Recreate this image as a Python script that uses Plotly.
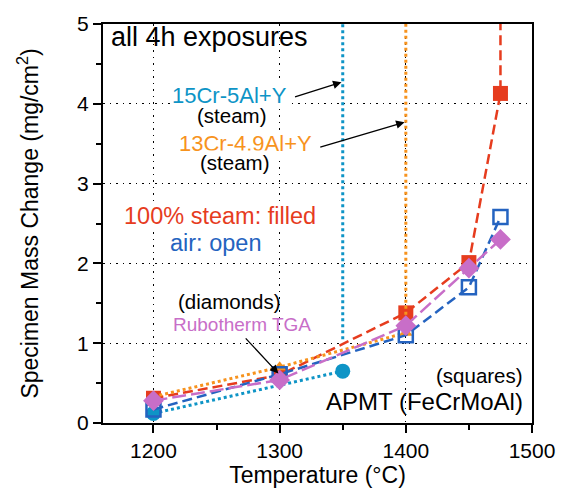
import plotly.graph_objects as go

# ---- data ----
temp_apmt = [1200, 1300, 1400, 1450, 1475]
steam_apmt_x = [1200, 1300, 1400, 1450, 1475, 1475]
steam_apmt_y = [0.31, 0.60, 1.38, 2.01, 4.13, 6.0]
air_apmt_y = [0.17, 0.61, 1.10, 1.70, 2.58]
tga_apmt_y = [0.28, 0.54, 1.22, 1.94, 2.30]

cr15_x = [1200, 1350]
cr15_y = [0.12, 0.65]
cr15_break_x = [1350, 1350]
cr15_break_y = [1.05, 6.0]

cr13_x = [1200, 1300, 1400]
cr13_y = [0.33, 0.70, 1.13]
cr13_break_x = [1400, 1400]
cr13_break_y = [1.13, 6.0]

RED = "#e63c1e"
BLUE = "#2463c0"
PURPLE = "#c86ec8"
CYAN = "#0e94c6"
ORANGE = "#f7931e"
FONT = "Liberation Sans, Arial, Helvetica, sans-serif"

fig = go.Figure()

# cyan 15Cr-5Al+Y steam
fig.add_trace(go.Scatter(x=cr15_x, y=cr15_y, mode="lines+markers",
                         line=dict(color=CYAN, width=3, dash="3px,3px"),
                         marker=dict(symbol="circle", size=15, color=CYAN)))
fig.add_trace(go.Scatter(x=cr15_break_x, y=cr15_break_y, mode="lines",
                         line=dict(color=CYAN, width=3, dash="3px,3px")))
# red APMT steam
fig.add_trace(go.Scatter(x=steam_apmt_x, y=steam_apmt_y, mode="lines+markers",
                         line=dict(color=RED, width=2.5, dash="10px,5px"),
                         marker=dict(symbol="square", size=15, color=RED)))
# orange 13Cr-4.9Al+Y steam
fig.add_trace(go.Scatter(x=cr13_x, y=cr13_y, mode="lines+markers",
                         line=dict(color=ORANGE, width=3, dash="3px,3px"),
                         marker=dict(symbol="triangle-up", size=12, color=ORANGE)))
fig.add_trace(go.Scatter(x=cr13_break_x, y=cr13_break_y, mode="lines",
                         line=dict(color=ORANGE, width=3, dash="3px,3px")))
# blue APMT air
fig.add_trace(go.Scatter(x=temp_apmt, y=air_apmt_y, mode="lines+markers",
                         line=dict(color=BLUE, width=2.5, dash="10px,5px"),
                         marker=dict(symbol="square-open", size=14, color=BLUE,
                                     line=dict(width=2.5, color=BLUE))))
# purple Rubotherm TGA
fig.add_trace(go.Scatter(x=temp_apmt, y=tga_apmt_y, mode="lines+markers",
                         line=dict(color=PURPLE, width=2.5, dash="14px,5px"),
                         marker=dict(symbol="diamond", size=16, color=PURPLE)))

# ---- text annotations ----
labels = [
    ("all 4h exposures", 1165.5, 4.84, "left", "black", 27, None),
    ("15Cr-5Al+Y", 1260, 4.11, "center", CYAN, 22, "white"),
    ("(steam)", 1262, 3.85, "center", "black", 20.5, "white"),
    ("13Cr-4.9Al+Y", 1273, 3.50, "center", ORANGE, 22, "white"),
    ("(steam)", 1264, 3.26, "center", "black", 20.5, "white"),
    ("100% steam: filled", 1253, 2.59, "center", RED, 23.5, "white"),
    ("air: open", 1249, 2.26, "center", BLUE, 23.5, None),
    ("(diamonds)", 1260, 1.52, "center", "black", 20.5, None),
    ("Rubotherm TGA", 1270, 1.23, "center", PURPLE, 19, None),
    ("(squares)", 1494, 0.59, "right", "black", 20.5, None),
    ("APMT (FeCrMoAl)", 1494, 0.27, "right", "black", 24, None),
]
for txt, x, y, anchor, col, size, bg in labels:
    fig.add_annotation(x=x, y=y, text=txt, showarrow=False, xanchor=anchor,
                       yanchor="middle", font=dict(family=FONT, size=size, color=col),
                       bgcolor=bg if bg else "rgba(0,0,0,0)", borderpad=0)

# ---- arrows ----
arrow_tips_x = [1349, 1399, 1299]
arrow_tips_y = [4.27, 3.77, 0.62]
arrow_tails_x = [1311, 1331, 1272]
arrow_tails_y = [4.08, 3.45, 1.08]
for tx, ty, ax, ay in zip(arrow_tips_x, arrow_tips_y, arrow_tails_x, arrow_tails_y):
    fig.add_annotation(x=tx, y=ty, ax=ax, ay=ay, axref="x", ayref="y",
                       xref="x", yref="y", text="", showarrow=True,
                       arrowhead=2, arrowsize=1.3, arrowwidth=1.3, arrowcolor="black")

axis_common = dict(showline=True, linecolor="black", linewidth=2, mirror=True,
                   ticks="outside", tickcolor="black", tickwidth=2, ticklen=8,
                   showgrid=True, gridcolor="black", gridwidth=1.3, griddash="1.5px,5px",
                   zeroline=False, tickfont=dict(family=FONT, size=21, color="black"))

fig.update_xaxes(range=[1160, 1500], tickvals=[1200, 1300, 1400, 1500],
                 minor=dict(tickvals=[1250, 1350, 1450], ticks="outside", ticklen=5,
                            tickcolor="black", tickwidth=2, showgrid=False),
                 title=dict(text="Temperature (°C)", font=dict(family=FONT, size=23, color="black"),
                            standoff=4),
                 **axis_common)
fig.update_yaxes(range=[0, 5], tickvals=[0, 1, 2, 3, 4, 5],
                 minor=dict(tickvals=[0.5, 1.5, 2.5, 3.5, 4.5], ticks="outside", ticklen=5,
                            tickcolor="black", tickwidth=2, showgrid=False),
                 title=dict(text="Specimen Mass Change (mg/cm<sup>2</sup>)",
                            font=dict(family=FONT, size=23, color="black"), standoff=32),
                 **axis_common)

fig.update_layout(width=567, height=494, showlegend=False,
                  margin=dict(l=103, r=26, t=18, b=69),
                  plot_bgcolor="white", paper_bgcolor="white",
                  font=dict(family=FONT))

fig.write_html("out.html")
